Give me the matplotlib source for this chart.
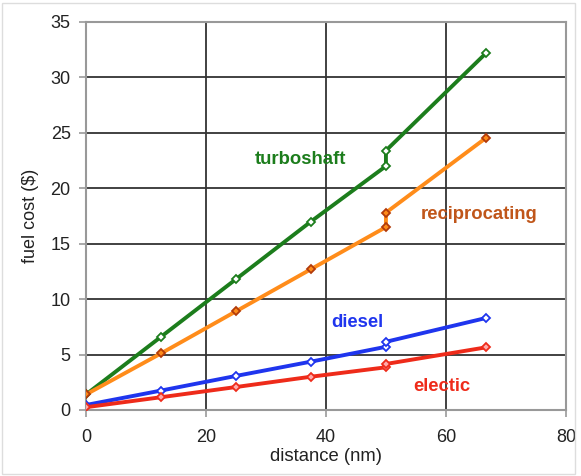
import matplotlib
matplotlib.use("Agg")
import matplotlib.pyplot as plt

plt.rcParams['font.family'] = ['Liberation Sans', 'DejaVu Sans']

distance = [0, 12.5, 25, 37.5, 50, 50, 66.7]
turboshaft = [1.4, 6.6, 11.8, 17.0, 22.0, 23.4, 32.2]
reciprocating = [1.4, 5.1, 8.9, 12.7, 16.5, 17.8, 24.55]
diesel = [0.45, 1.75, 3.07, 4.36, 5.7, 6.15, 8.3]
electic = [0.25, 1.15, 2.07, 3.0, 3.85, 4.15, 5.65]

x_ticks = [0, 20, 40, 60, 80]
y_ticks = [0, 5, 10, 15, 20, 25, 30, 35]

fig = plt.figure(figsize=(5.81, 4.76), dpi=100)
ax = fig.add_axes([0.148, 0.1387, 0.826, 0.8151])

series = [
    (turboshaft, '#1c7d1c', '#1c7d1c', 'white', 'turboshaft', (35.7, 22.6), '#1c7d1c'),
    (reciprocating, '#ff8c1a', '#b23a0a', '#ff8c1a', 'reciprocating', (65.5, 17.6), '#c0561a'),
    (diesel, '#1f35ee', '#1f35ee', 'white', 'diesel', (45.3, 7.85), '#1f35ee'),
    (electic, '#ee2b1a', '#ee2b1a', '#ffaaaa', 'electic', (59.3, 2.1), '#ee2b1a'),
]
for vals, lc, mec, mfc, name, pos, tc in series:
    ax.plot(distance, vals, color=lc, lw=2.8, marker='D', ms=4.5,
            mec=mec, mfc=mfc, mew=1.3, zorder=3)
    ax.text(pos[0], pos[1], name, color=tc, fontsize=13.3, fontweight='bold',
            ha='center', va='center', zorder=4)

ax.set_xlim(0, 80)
ax.set_ylim(0, 35)
ax.set_xticks(x_ticks)
ax.set_yticks(y_ticks)
ax.grid(True, color='#333333', lw=1.3)
ax.set_axisbelow(True)
for s in ax.spines.values():
    s.set_color('#999999')
    s.set_linewidth(1.5)
ax.tick_params(labelsize=13, color='#999999', length=5, width=1.2, labelcolor='#222222')
ax.tick_params(axis='x', pad=9)
ax.tick_params(axis='y', pad=6)
ax.set_xlabel('distance (nm)', fontsize=13.3, color='#222222', labelpad=1)
ax.set_ylabel('fuel cost ($)', fontsize=13, color='#222222', labelpad=8)

fig.patches.append(plt.Rectangle((0.004, 0.004), 0.985, 0.99, transform=fig.transFigure,
                                 fill=False, edgecolor='#dddddd', lw=1))
fig.savefig('out.png', dpi=100)
